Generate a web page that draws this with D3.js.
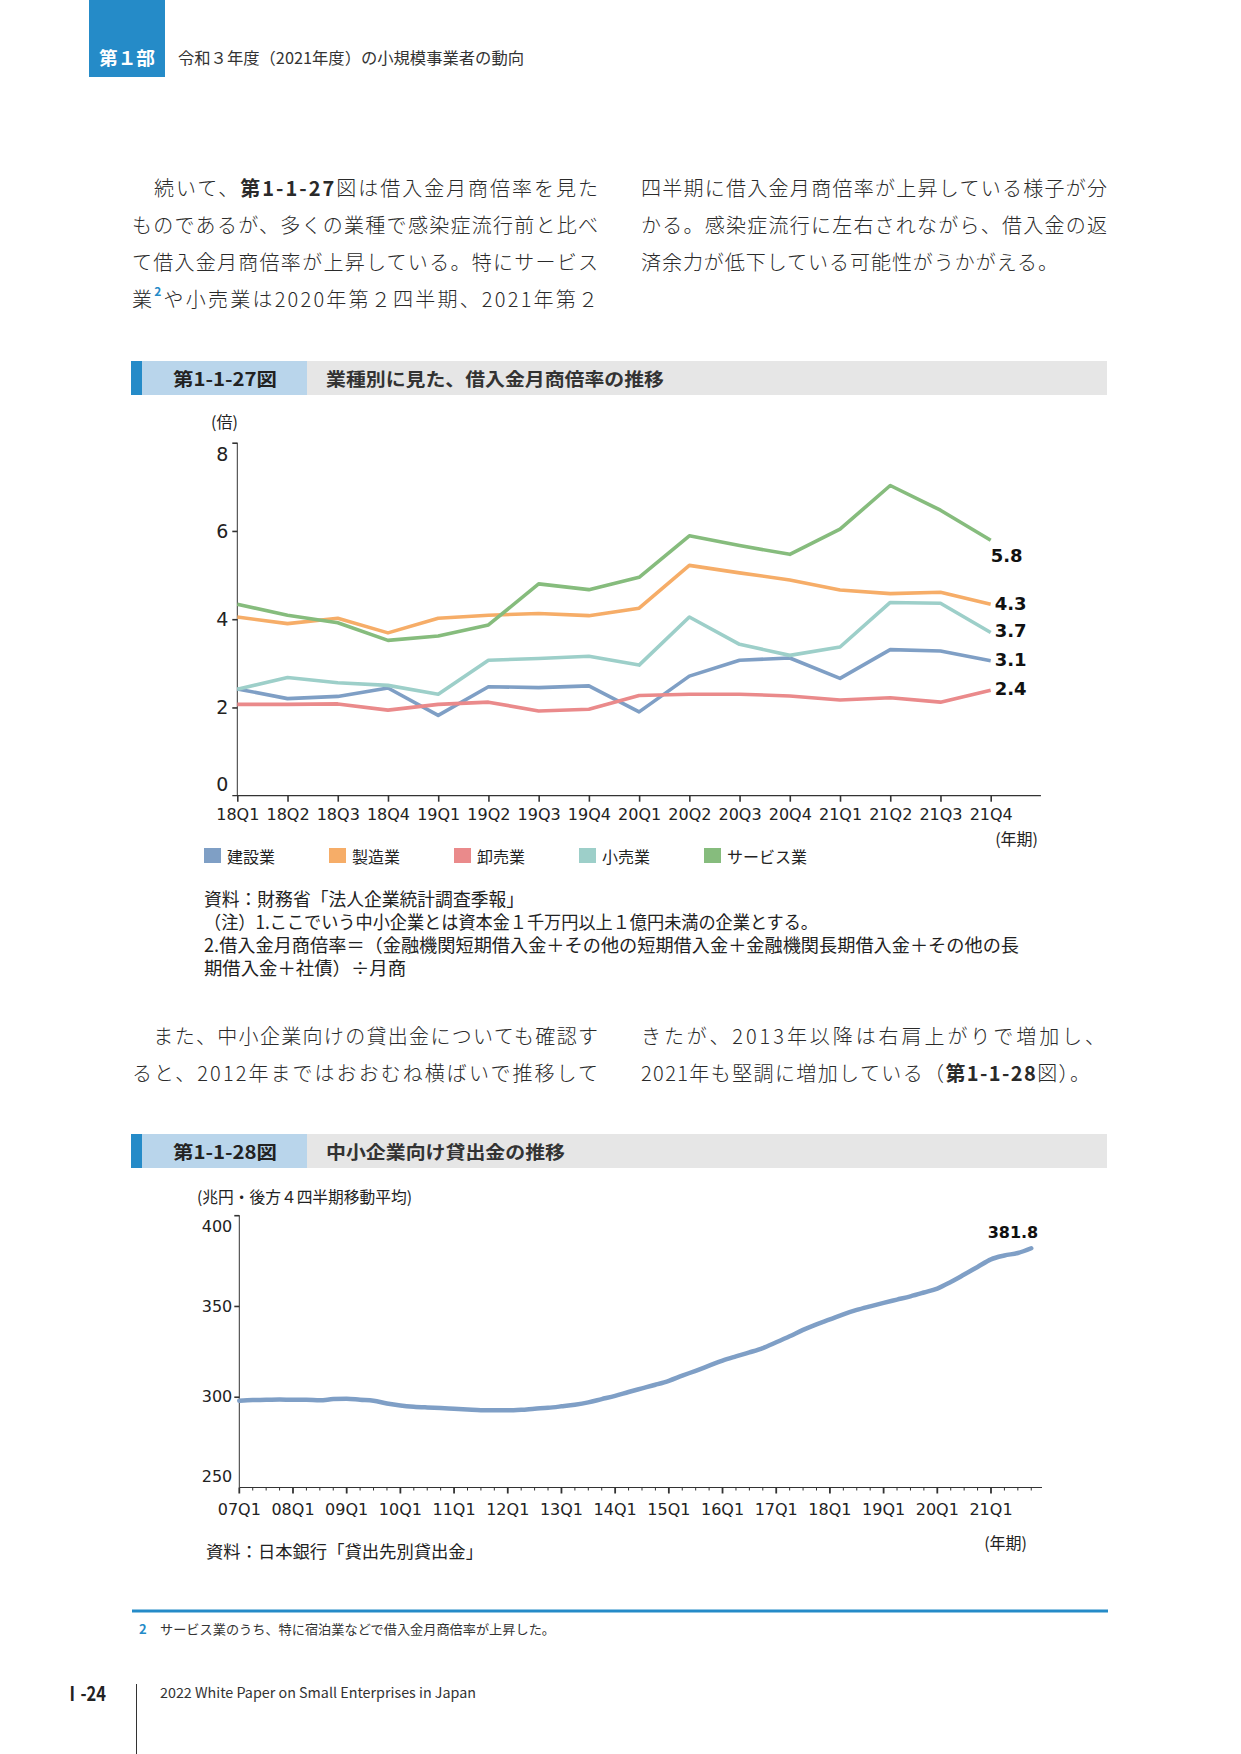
<!DOCTYPE html>
<html><head><meta charset="utf-8">
<script src="https://cdn.jsdelivr.net/npm/d3@7"></script>
<style>body{margin:0;background:#fff}</style>
</head><body>
<svg id="page" width="1241" height="1754"></svg>
<script>
// ---------------- DATA ----------------
const quarters1 = ["18Q1","18Q2","18Q3","18Q4","19Q1","19Q2","19Q3","19Q4","20Q1","20Q2","20Q3","20Q4","21Q1","21Q2","21Q3","21Q4"];
const industries = ["建設業","製造業","卸売業","小売業","サービス業"];
const constructionRatio = [2.42,2.20,2.25,2.44,1.82,2.47,2.45,2.49,1.90,2.71,3.07,3.12,2.66,3.31,3.28,3.06];
const manufacturingRatio = [4.05,3.90,4.02,3.69,4.02,4.09,4.13,4.08,4.25,5.22,5.05,4.89,4.66,4.58,4.61,4.34];
const wholesaleRatio = [2.07,2.07,2.08,1.94,2.07,2.12,1.92,1.96,2.27,2.30,2.30,2.26,2.17,2.22,2.12,2.39];
const retailRatio = [2.41,2.68,2.56,2.50,2.30,3.07,3.11,3.16,2.96,4.05,3.43,3.18,3.37,4.38,4.36,3.70];
const servicesRatio = [4.34,4.09,3.92,3.52,3.62,3.87,4.80,4.67,4.95,5.89,5.67,5.47,6.04,7.03,6.47,5.79];
const endLabels1 = ["3.1","4.3","2.4","3.7","5.8"];
const ratioTicks = [0,2,4,6,8];

const loanTickLabels = ["07Q1","08Q1","09Q1","10Q1","11Q1","12Q1","13Q1","14Q1","15Q1","16Q1","17Q1","18Q1","19Q1","20Q1","21Q1"];
const loanValues = [
  297.8,298.2,298.3,298.5, 298.3,298.3,298.0,298.7, 298.9,298.3,297.8,296.3,
  295.2,294.5,294.1,293.8, 293.4,293.0,292.6,292.5, 292.5,292.8,293.4,293.9,
  294.7,295.6,296.9,298.7, 300.5,302.6,304.6,306.6, 308.8,311.6,314.3,317.1,
  319.9,322.2,324.4,326.8, 330.0,333.3,336.8,339.9, 342.6,345.4,347.8,349.8,
  351.7,353.5,355.3,357.4, 359.6,363.2,367.3,371.5, 375.7,377.8,379.2,381.8];
const loanEndLabel = "381.8";
const loanTicks = [250,300,350,400];

// ---------------- STYLE ----------------
const JP = "'Noto Sans CJK JP', sans-serif";
const NUM = "'DejaVu Sans', 'Noto Sans CJK JP', sans-serif";
const seriesColors = ["#7f9fc5","#f6ad68","#ea8a8b","#9dcfc9","#86bc7d"];
const BLUE = "#258bc8";
const TEXT = "#222";

const svg = d3.select("#page");
svg.append("rect").attr("width",1241).attr("height",1754).attr("fill","#fff");

function addText(parent, x, y, str, o = {}) {
  const t = parent.append("text").attr("x", x).attr("y", y)
    .attr("font-family", o.family || JP).attr("font-size", o.size || 16)
    .attr("font-weight", o.weight || 400).attr("fill", o.fill || TEXT)
    .attr("dominant-baseline", "central")
    .attr("text-anchor", o.anchor || "start");
  if (o.len) t.attr("textLength", o.len).attr("lengthAdjust", "spacingAndGlyphs");
  if (typeof str === "string") t.text(str);
  else {
    str.forEach(p => {
      const s = t.append("tspan").text(p.t);
      if (p.bold) s.attr("font-weight", 700).attr("font-family", JP);
      if (p.sup) s.attr("font-size", 12).attr("fill", BLUE).attr("font-weight", 700).attr("dy", -8);
      if (p.down) s.attr("dy", 8);
    });
  }
  return t;
}

// ---------------- HEADER ----------------
svg.append("rect").attr("x",89).attr("y",0).attr("width",76).attr("height",77).attr("fill",BLUE);
addText(svg, 127, 57, "第１部", {size:18, weight:700, fill:"#fff", anchor:"middle", len:56});
addText(svg, 178, 57, "令和３年度（2021年度）の小規模事業者の動向", {size:16, fill:"#333", len:346});

// ---------------- BODY TEXT ----------------
const bodyLines = [
  {x:132, y:187, len:466, parts:[{t:"　続いて、"},{t:"第1-1-27",bold:true},{t:"図は借入金月商倍率を見た"}]},
  {x:132, y:224, len:466, parts:[{t:"ものであるが、多くの業種で感染症流行前と比べ"}]},
  {x:132, y:261, len:466, parts:[{t:"て借入金月商倍率が上昇している。特にサービス"}]},
  {x:132, y:298, len:466, parts:[{t:"業"},{t:"2",sup:true},{t:"や小売業は2020年第２四半期、2021年第２",down:true}]},
  {x:641, y:187, len:466, parts:[{t:"四半期に借入金月商倍率が上昇している様子が分"}]},
  {x:641, y:224, len:466, parts:[{t:"かる。感染症流行に左右されながら、借入金の返"}]},
  {x:641, y:261, len:417, parts:[{t:"済余力が低下している可能性がうかがえる。"}]},
  {x:132, y:1035, len:466, parts:[{t:"　また、中小企業向けの貸出金についても確認す"}]},
  {x:132, y:1072, len:466, parts:[{t:"ると、2012年まではおおむね横ばいで推移して"}]},
  {x:641, y:1035, len:464, parts:[{t:"きたが、2013年以降は右肩上がりで増加し、"}]},
  {x:641, y:1072, len:449, parts:[{t:"2021年も堅調に増加している（"},{t:"第1-1-28",bold:true},{t:"図）。"}]}
];
bodyLines.forEach(l => {
  const t = addText(svg, l.x, l.y, l.parts, {size:20, fill:"#2a2a2a", weight:300});
  t.attr("textLength", l.len).attr("lengthAdjust", "spacing");
});

// ---------------- FIGURE TITLE BARS ----------------
function titleBar(y, num, title, titleLen) {
  const h = 34;
  svg.append("rect").attr("x",131).attr("y",y).attr("width",976).attr("height",h).attr("fill","#e6e6e6");
  svg.append("rect").attr("x",142).attr("y",y).attr("width",165).attr("height",h).attr("fill","#b9d5eb");
  svg.append("rect").attr("x",131).attr("y",y).attr("width",11).attr("height",h).attr("fill",BLUE);
  addText(svg, 173, y + h/2, num, {size:18, weight:700, fill:"#222", len:104});
  addText(svg, 326, y + h/2, title, {size:18, weight:700, fill:"#333", len:titleLen});
}
titleBar(361, "第1-1-27図", "業種別に見た、借入金月商倍率の推移", 338);
titleBar(1134, "第1-1-28図", "中小企業向け貸出金の推移", 239);

// ---------------- CHART 1 ----------------
const x1 = d3.scalePoint().domain(quarters1).range([237.3, 990.7]);
const y1 = d3.scaleLinear().domain([0, 8]).range([795.7, 442.7]);
const axisEnd1 = x1.range()[1] + x1.step();
const g1 = svg.append("g");

addText(g1, 211, 421, "(倍)", {size:16, fill:"#222"});

g1.append("line").attr("x1",x1.range()[0]).attr("x2",x1.range()[0]).attr("y1",y1(8)).attr("y2",y1(0)).attr("stroke","#333").attr("stroke-width",1);
g1.append("line").attr("x1",x1.range()[0]-5).attr("x2",axisEnd1).attr("y1",y1(0)).attr("y2",y1(0)).attr("stroke","#333").attr("stroke-width",1.2);

const yAxis1 = d3.axisLeft(y1).tickValues(ratioTicks.filter(d => d > 0)).tickSize(5).tickPadding(4).tickFormat(d3.format("d"));
g1.append("g").attr("transform", `translate(${x1.range()[0]},0)`).attr("color","#333")
  .call(yAxis1)
  .call(g => g.select(".domain").remove())
  .call(g => g.selectAll("line").attr("stroke-width",1.6))
  .call(g => g.selectAll("text").attr("font-size",19).attr("font-family",NUM).attr("fill","#222")
      .attr("y", d => d === 8 ? 12 : 0));
addText(g1, x1.range()[0] - 9, y1(0) - 12, "0", {size:19, family:NUM, anchor:"end"});

const xAxis1 = d3.axisBottom(x1).tickSize(6).tickPadding(0);
g1.append("g").attr("transform", `translate(0,${y1(0)})`).attr("color","#333")
  .call(xAxis1)
  .call(g => g.select(".domain").remove())
  .call(g => g.selectAll("line").attr("stroke-width",1.6))
  .call(g => g.selectAll("text").attr("font-size",16).attr("font-family",NUM).attr("fill","#222")
      .attr("y", 19).attr("dy","0.35em"));
addText(g1, 1038, 838, "(年期)", {size:16, anchor:"end"});

const ratioSeries = [constructionRatio, manufacturingRatio, wholesaleRatio, retailRatio, servicesRatio];
const line1 = d3.line().x((d, i) => x1(quarters1[i])).y(d => y1(d));
ratioSeries.forEach((s, k) => {
  g1.append("path").attr("d", line1(s)).attr("fill","none")
    .attr("stroke", seriesColors[k]).attr("stroke-width", 3.6)
    .attr("stroke-linejoin","round");
});
const endDy = [-1, -1, -2, -2, 15];
const endDx = [4, 4, 4, 4, 0];
ratioSeries.forEach((s, k) => {
  const last = s.length - 1;
  addText(g1, x1(quarters1[last]) + endDx[k], y1(s[last]) + endDy[k], endLabels1[k],
    {size:18, weight:700, family:NUM, fill:"#111"});
});

// legend
const legendX = d3.scaleLinear().domain([0, 1]).range([204, 329]);
industries.forEach((name, k) => {
  const lx = legendX(k);
  g1.append("rect").attr("x", lx).attr("y", 848).attr("width", 17).attr("height", 15).attr("fill", seriesColors[k]);
  addText(g1, lx + 23, 856, name, {size:16});
});

// notes
const notes1 = [
  {t:"資料：財務省「法人企業統計調査季報」", y:898, len:320},
  {t:"（注）1.ここでいう中小企業とは資本金１千万円以上１億円未満の企業とする。", y:921, len:614},
  {t:"2.借入金月商倍率＝（金融機関短期借入金＋その他の短期借入金＋金融機関長期借入金＋その他の長", y:944, len:815},
  {t:"期借入金＋社債）÷月商", y:967, len:202}
];
notes1.forEach(n => addText(svg, 204, n.y, n.t, {size:18, len:n.len}));

// ---------------- CHART 2 ----------------
const x2 = d3.scaleLinear().domain([0, 59.8]).range([239.3, 1042]);
const y2 = d3.scaleLinear().domain([250, 400]).range([1487.5, 1215.2]);
const g2 = svg.append("g");

addText(g2, 197, 1196, "(兆円・後方４四半期移動平均)", {size:16, len:215});

g2.append("line").attr("x1",x2(0)).attr("x2",x2(0)).attr("y1",y2(400)).attr("y2",y2(250)).attr("stroke","#333");
g2.append("line").attr("x1",x2(0)).attr("x2",x2.range()[1]).attr("y1",y2(250)).attr("y2",y2(250)).attr("stroke","#333").attr("stroke-width",1.2);

const yAxis2 = d3.axisLeft(y2).tickValues(loanTicks).tickSize(5).tickPadding(2).tickFormat(d3.format("d"));
g2.append("g").attr("transform", `translate(${x2(0)},0)`).attr("color","#333")
  .call(yAxis2)
  .call(g => g.select(".domain").remove())
  .call(g => g.selectAll("line").attr("stroke-width",1.6).attr("display", d => d === 250 ? "none" : null))
  .call(g => g.selectAll("text").attr("font-size",16).attr("font-family",NUM).attr("fill","#222")
      .attr("y", d => d === 400 ? 11 : d === 250 ? -11 : 0));

const quarterIdx = d3.range(loanValues.length);
g2.append("g").selectAll("line").data(quarterIdx).join("line")
  .attr("x1", d => x2(d)).attr("x2", d => x2(d))
  .attr("y1", y2(250)).attr("y2", d => y2(250) + (d % 4 === 0 ? 6 : 3))
  .attr("stroke", "#333").attr("stroke-width", d => d % 4 === 0 ? 1.8 : 1);
g2.append("g").selectAll("text").data(loanTickLabels).join("text")
  .attr("x", (d, i) => x2(i * 4)).attr("y", 1509)
  .attr("text-anchor","middle").attr("dominant-baseline","central")
  .attr("font-family", NUM).attr("font-size", 16).attr("fill", "#222")
  .text(d => d);
addText(g2, 1027, 1542, "(年期)", {size:16, anchor:"end"});

const line2 = d3.line().x((d, i) => x2(i)).y(d => y2(d)).curve(d3.curveMonotoneX);
g2.append("path").attr("d", line2(loanValues)).attr("fill","none")
  .attr("stroke", "#7f9fc6").attr("stroke-width", 4.5).attr("stroke-linejoin","round").attr("stroke-linecap","round");
addText(g2, x2(loanValues.length - 1) + 7, 1232, loanEndLabel, {size:16, weight:700, family:NUM, fill:"#111", anchor:"end"});

addText(svg, 206, 1550, "資料：日本銀行「貸出先別貸出金」", {size:17, len:277});

// ---------------- FOOTNOTE & FOOTER ----------------
svg.append("line").attr("x1",132).attr("x2",1108).attr("y1",1611).attr("y2",1611).attr("stroke",BLUE).attr("stroke-width",3);
addText(svg, 139, 1628, "2", {size:13, weight:700, fill:BLUE});
addText(svg, 160, 1628, "サービス業のうち、特に宿泊業などで借入金月商倍率が上昇した。", {size:13, fill:"#333", len:395});

svg.append("line").attr("x1",136.5).attr("x2",136.5).attr("y1",1684).attr("y2",1754).attr("stroke","#333").attr("stroke-width",1);
addText(svg, 64, 1692, "Ⅰ-24", {size:20, weight:700, fill:"#222", len:42});
addText(svg, 160, 1692, "2022 White Paper on Small Enterprises in Japan", {size:14, fill:"#333", len:316});
</script>
</body></html>
